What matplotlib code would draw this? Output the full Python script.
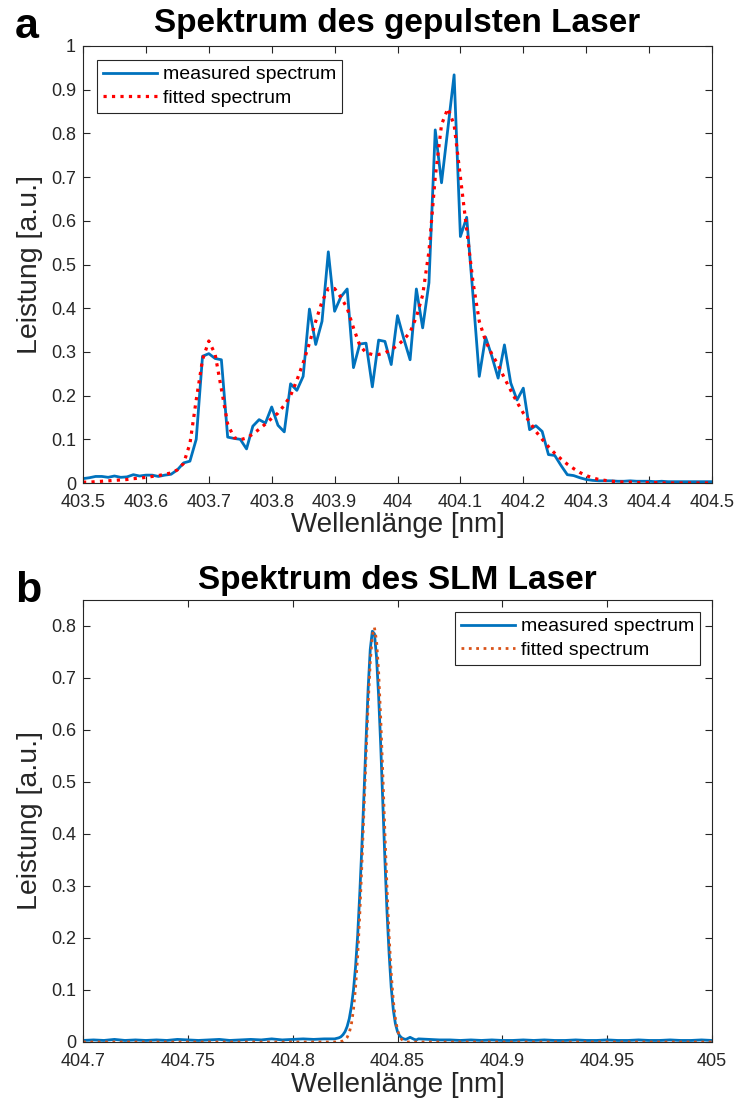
import numpy as np
import matplotlib
matplotlib.use("Agg")
import matplotlib.pyplot as plt
from matplotlib.ticker import FormatStrFormatter

plt.rcParams['font.family'] = ['Liberation Sans', 'DejaVu Sans']

# --- panel a: pulsed laser, sampled every 0.01 nm ---
wl_a = np.linspace(403.5, 404.5, 101)
meas_a = [0.010, 0.012, 0.015, 0.015, 0.013, 0.016, 0.013, 0.014, 0.019, 0.016,
          0.018, 0.018, 0.015, 0.018, 0.020, 0.030, 0.046, 0.050, 0.100, 0.290,
          0.296, 0.285, 0.282, 0.105, 0.102, 0.100, 0.078, 0.130, 0.145, 0.137,
          0.174, 0.132, 0.117, 0.227, 0.212, 0.244, 0.398, 0.317, 0.370, 0.529,
          0.393, 0.426, 0.444, 0.264, 0.318, 0.320, 0.220, 0.327, 0.324, 0.271,
          0.383, 0.330, 0.282, 0.444, 0.355, 0.458, 0.808, 0.687, 0.810, 0.934,
          0.564, 0.608, 0.430, 0.244, 0.334, 0.290, 0.240, 0.316, 0.229, 0.190,
          0.217, 0.122, 0.131, 0.118, 0.065, 0.063, 0.040, 0.019, 0.017, 0.012,
          0.008, 0.006, 0.005, 0.005, 0.005, 0.004, 0.004, 0.005, 0.004, 0.004,
          0.004, 0.003, 0.004, 0.003, 0.003, 0.003, 0.003, 0.003, 0.003, 0.003,
          0.003]
fit_a = [0.002, 0.002, 0.003, 0.004, 0.005, 0.006, 0.007, 0.008, 0.010, 0.011,
         0.013, 0.015, 0.017, 0.020, 0.023, 0.030, 0.045, 0.090, 0.190, 0.282,
         0.325, 0.295, 0.215, 0.135, 0.104, 0.099, 0.103, 0.112, 0.123, 0.135,
         0.148, 0.160, 0.178, 0.200, 0.235, 0.275, 0.320, 0.370, 0.415, 0.445,
         0.445, 0.425, 0.400, 0.355, 0.315, 0.298, 0.294, 0.294, 0.298, 0.305,
         0.315, 0.328, 0.345, 0.380, 0.430, 0.530, 0.700, 0.820, 0.857, 0.820,
         0.700, 0.580, 0.460, 0.370, 0.325, 0.295, 0.270, 0.240, 0.212, 0.185,
         0.160, 0.140, 0.118, 0.100, 0.083, 0.068, 0.055, 0.043, 0.033, 0.024,
         0.017, 0.012, 0.008, 0.006, 0.004, 0.003, 0.002, 0.002, 0.001, 0.001,
         0.001, 0.001, 0.000, 0.000, 0.000, 0.000, 0.000, 0.000, 0.000, 0.000,
         0.000]

# --- panel b: SLM laser (coarse baseline, fine sampling around the line) ---
wl_b = np.round(np.r_[np.arange(404.700, 404.8201, 0.005),
                      np.arange(404.821, 404.8601, 0.001),
                      np.arange(404.865, 405.0001, 0.005)], 4)
meas_b = [0.003, 0.004, 0.003, 0.005, 0.003, 0.004, 0.003, 0.004, 0.003, 0.005,
          0.004, 0.003, 0.004, 0.005, 0.003, 0.004, 0.005, 0.004, 0.006, 0.004,
          0.005, 0.006, 0.005, 0.006, 0.006,
          0.007, 0.008, 0.010, 0.014, 0.020, 0.030, 0.045, 0.068, 0.100, 0.145,
          0.205, 0.285, 0.375, 0.475, 0.580, 0.680, 0.755, 0.790, 0.785, 0.740,
          0.665, 0.570, 0.460, 0.350, 0.250, 0.170, 0.105, 0.062, 0.035, 0.020,
          0.012, 0.008, 0.006, 0.005, 0.007, 0.009, 0.007, 0.005, 0.004, 0.006,
          0.005, 0.004, 0.004, 0.003, 0.004, 0.003, 0.004, 0.003, 0.003, 0.004,
          0.003, 0.004, 0.003, 0.003, 0.004, 0.003, 0.003, 0.004, 0.003, 0.003,
          0.004, 0.003, 0.003, 0.004, 0.003, 0.003, 0.004, 0.003]
fit_b = [0.0] * 25 + [
          0.000, 0.000, 0.001, 0.002, 0.004, 0.009, 0.018, 0.034, 0.062, 0.105,
          0.165, 0.245, 0.340, 0.445, 0.550, 0.650, 0.730, 0.782, 0.797, 0.772,
          0.712, 0.622, 0.515, 0.402, 0.296, 0.204, 0.132, 0.080, 0.045, 0.023,
          0.011, 0.005, 0.002, 0.001, 0.000, 0.000, 0.000, 0.000, 0.000, 0.000] + [0.0] * 28

labels = ['measured spectrum', 'fitted spectrum']
grey = '#262626'
W, H = 736, 1105

fig = plt.figure(figsize=(W / 100, H / 100), dpi=100)
ax1 = fig.add_axes([83 / W, 1 - 483 / H, 629 / W, 437 / H])
ax2 = fig.add_axes([83 / W, 1 - 1042 / H, 629 / W, 442 / H])

ax1.plot(wl_a, meas_a, color='#0072BD', lw=2.0, label=labels[0])
ax1.plot(wl_a, fit_a, color='#FF0000', lw=2.3, ls=':', label=labels[1])
ax2.plot(wl_b, meas_b, color='#0072BD', lw=2.0, label=labels[0])
ax2.plot(wl_b, fit_b, color='#D95319', lw=2.0, ls=':', label=labels[1])

ax1.set_xlim(403.5, 404.5)
ax1.set_ylim(0, 1)
ax1.set_xticks(np.arange(403.5, 404.51, 0.1))
ax1.set_yticks(np.arange(0, 1.01, 0.1))
ax2.set_xlim(404.7, 405.0)
ax2.set_ylim(0, 0.85)
ax2.set_xticks(np.arange(404.7, 405.001, 0.05))
ax2.set_yticks(np.arange(0, 0.81, 0.1))

titles = ['Spektrum des gepulsten Laser', 'Spektrum des SLM Laser']
for ax, t, pad in zip([ax1, ax2], titles, [10, 8]):
    ax.set_title(t, fontsize=24, fontweight='bold', pad=pad)
    ax.set_xlabel('Wellenlänge [nm]', fontsize=20, color=grey, labelpad=1)
    ax.set_ylabel('Leistung [a.u.]', fontsize=20.5, color=grey, labelpad=6)
    ax.xaxis.set_major_formatter(FormatStrFormatter('%g'))
    ax.yaxis.set_major_formatter(FormatStrFormatter('%g'))
    ax.tick_params(direction='in', top=True, right=True, length=5, width=0.8,
                   colors=grey, labelsize=13)
    ax.tick_params(axis='x', pad=8)
    ax.tick_params(axis='y', pad=5)
    for s in ax.spines.values():
        s.set_color(grey)
        s.set_linewidth(0.8)

leg1 = ax1.legend(loc='upper left', bbox_to_anchor=(14 / 629, 1 - 14 / 437),
                  borderaxespad=0, fontsize=14, fancybox=False, framealpha=1,
                  edgecolor=grey, handlelength=2.8, handletextpad=0.3,
                  borderpad=0.3, labelspacing=0.3)
leg2 = ax2.legend(loc='upper right', bbox_to_anchor=(1 - 12 / 629, 1 - 12 / 442),
                  borderaxespad=0, fontsize=14, fancybox=False, framealpha=1,
                  edgecolor=grey, handlelength=2.8, handletextpad=0.3,
                  borderpad=0.3, labelspacing=0.3)
for leg in (leg1, leg2):
    leg.get_frame().set_linewidth(0.8)

fig.text(15 / W, 1 - 38 / H, 'a', fontsize=31, fontweight='bold', va='baseline')
fig.text(15 / W, 1 - 602 / H, 'b', fontsize=31, fontweight='bold', va='baseline')

fig.savefig('out.png', dpi=100)
